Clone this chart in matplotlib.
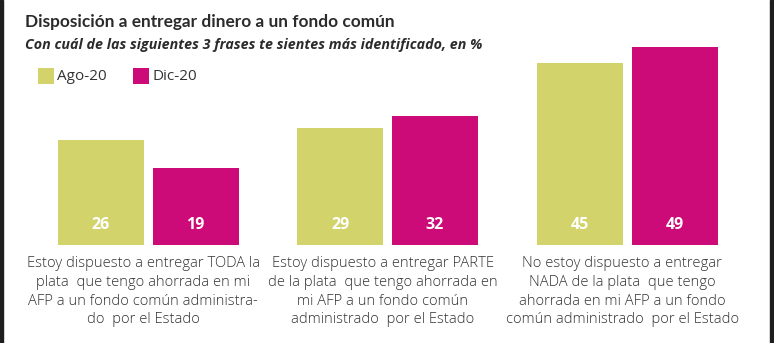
import matplotlib
matplotlib.use("Agg")
import matplotlib.pyplot as plt
from matplotlib.patches import Rectangle
import numpy as np

# Survey data
categories = [
    "Estoy dispuesto a entregar TODA la\nplata  que tengo ahorrada en mi\nAFP a un fondo común administra-\ndo  por el Estado",
    "Estoy dispuesto a entregar PARTE\nde la plata  que tengo ahorrada en\nmi AFP a un fondo común\nadministrado  por el Estado",
    "No estoy dispuesto a entregar\nNADA de la plata  que tengo\nahorrada en mi AFP a un fondo\ncomún administrado  por el Estado",
]
series_names = ["Ago-20", "Dic-20"]
ago_20 = [26, 29, 45]
dic_20 = [19, 32, 49]

title = "Disposición a entregar dinero a un fondo común"
subtitle = "Con cuál de las siguientes 3 frases te sientes más identificado, en %"

colors = ["#d2d46b", "#cc0a78"]
text_color = "#2b2b2b"
FONT = "Open Sans"

W, H = 774, 343
fig = plt.figure(figsize=(W / 100, H / 100), dpi=100)
fig.patch.set_facecolor("white")

# dark frame strips at the left and right edges
fig.add_artist(Rectangle((0, 0), 3 / W, 1, transform=fig.transFigure,
                         color="#1e1e1e", zorder=10))
fig.add_artist(Rectangle((1 - 4 / W, 0), 4 / W, 1, transform=fig.transFigure,
                         color="#1e1e1e", zorder=10))

# plotting area: baseline 98 px above the bottom edge
base_px = 98
px_per_unit = 4.04
group_px = 239.5
first_center_px = 148
ax = fig.add_axes([0, base_px / H, 1, (H - base_px) / H])
ax.set_xlim(-first_center_px / group_px, (W - first_center_px) / group_px)
ax.set_ylim(0, (H - base_px) / px_per_unit)
ax.axis("off")

x = np.arange(len(categories))
width = 86 / group_px
offset = 47.5 / group_px

for vals, dx, col in [(ago_20, -offset, colors[0]), (dic_20, offset, colors[1])]:
    bars = ax.bar(x + dx, vals, width=width, color=col, linewidth=0)
    for b, v in zip(bars, vals):
        ax.text(b.get_x() + b.get_width() / 2, 5.0, f"{v}", ha="center",
                va="center", color="white", fontsize=11.5, fontweight="bold",
                family=FONT)

# category descriptions under each pair of bars
for xi, label in zip(x, categories):
    ax.annotate(label, xy=(xi - 0.02, 0), xycoords="data",
                xytext=(0, -8), textcoords="offset points",
                ha="center", va="top", multialignment="center",
                fontsize=10.6, color="#333333", family=FONT, fontweight="light",
                linespacing=1.34, annotation_clip=False)

# titles
fig.text(25 / W, 1 - 22 / H, title, fontsize=12.4, fontweight="bold",
         color=text_color, family="Lato", va="center", ha="left")
fig.text(25 / W, 1 - 45 / H, subtitle, fontsize=10.3, fontweight="bold",
         style="italic", color=text_color, family=FONT, va="center", ha="left")

# legend
for i, (name, col) in enumerate(zip(series_names, colors)):
    lx = 38 + i * 95
    fig.add_artist(Rectangle((lx / W, 1 - 84 / H), 16 / W, 16 / H,
                             transform=fig.transFigure, color=col, linewidth=0))
    fig.text((lx + 19) / W, 1 - 76 / H, name, fontsize=11, color="#333333",
             family=FONT, va="center", ha="left")

fig.savefig("out.png", dpi=100)
